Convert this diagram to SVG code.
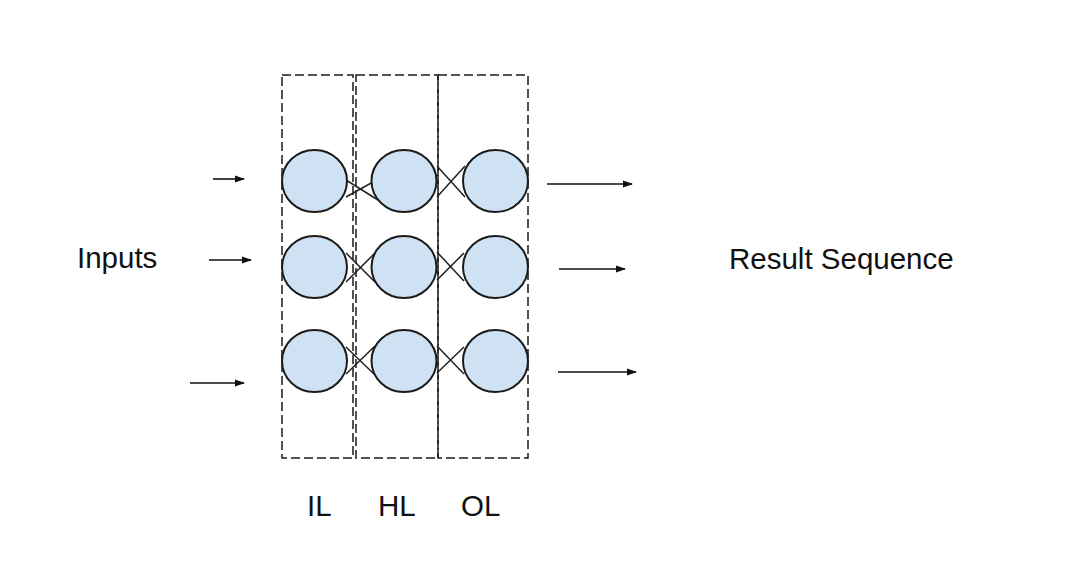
<svg xmlns="http://www.w3.org/2000/svg" width="1074" height="566" viewBox="0 0 1074 566">
<style>
.box{fill:none;stroke:#1a1a1a;stroke-width:1.5;stroke-dasharray:9,4}
.node{fill:#cfe2f3;stroke:#1a1a1a;stroke-width:2}
.x{fill:none;stroke:#222;stroke-width:1.5}
.arr{fill:none;stroke:#111;stroke-width:1.6;marker-end:url(#ah)}
.lbl{font-family:"Liberation Sans",Arial,sans-serif;font-size:29.5px;fill:#111}
</style>
<defs>
<marker id="ah" viewBox="0 0 10 10" refX="9" refY="5" markerWidth="10" markerHeight="8" markerUnits="userSpaceOnUse" orient="auto" preserveAspectRatio="none">
<path d="M0,0.5 L10,5 L0,9.5 z" fill="#111"/>
</marker>
</defs>
<rect width="1074" height="566" fill="#fff"/>
<g id="layers">
<rect id="box-IL" class="box" x="282" y="75" width="71" height="383"/>
<rect id="box-HL" class="box" x="356" y="75" width="82" height="383"/>
<rect id="box-OL" class="box" x="438" y="75" width="90" height="383"/>
</g>
<g id="connectors">
<line class="x" x1="346" y1="180" x2="378" y2="200"/>
<line class="x" x1="346" y1="197" x2="373" y2="182"/>
<line class="x" x1="437" y1="166" x2="465" y2="197"/>
<line class="x" x1="437" y1="197" x2="465" y2="166"/>
<line class="x" x1="346" y1="253" x2="375" y2="282"/>
<line class="x" x1="346" y1="282" x2="375" y2="253"/>
<line class="x" x1="437" y1="252" x2="464" y2="281"/>
<line class="x" x1="437" y1="280" x2="464" y2="253"/>
<line class="x" x1="346" y1="347" x2="375" y2="375"/>
<line class="x" x1="346" y1="374" x2="375" y2="346"/>
<line class="x" x1="437" y1="346" x2="464" y2="374"/>
<line class="x" x1="437" y1="373" x2="464" y2="347"/>
<line class="arr" x1="213" y1="179" x2="244" y2="179"/>
<line class="arr" x1="209" y1="260" x2="251" y2="260"/>
<line class="arr" x1="190" y1="383" x2="244" y2="383"/>
<line class="arr" x1="547" y1="184" x2="632" y2="184"/>
<line class="arr" x1="559" y1="269" x2="625" y2="269"/>
<line class="arr" x1="558" y1="372" x2="636" y2="372"/>
</g>
<g id="n-il1"><ellipse class="node" cx="314.5" cy="181" rx="32.5" ry="31"/></g>
<g id="n-hl1"><ellipse class="node" cx="404" cy="181" rx="32.5" ry="31"/></g>
<g id="n-ol1"><ellipse class="node" cx="495.5" cy="181" rx="32.5" ry="31"/></g>
<g id="n-il2"><ellipse class="node" cx="314.5" cy="267" rx="32.5" ry="31"/></g>
<g id="n-hl2"><ellipse class="node" cx="404" cy="267" rx="32.5" ry="31"/></g>
<g id="n-ol2"><ellipse class="node" cx="495.5" cy="267" rx="32.5" ry="31"/></g>
<g id="n-il3"><ellipse class="node" cx="314.5" cy="361" rx="32.5" ry="31"/></g>
<g id="n-hl3"><ellipse class="node" cx="404" cy="361" rx="32.5" ry="31"/></g>
<g id="n-ol3"><ellipse class="node" cx="495.5" cy="361" rx="32.5" ry="31"/></g>
<g id="labels">
<text class="lbl" x="77" y="268">Inputs</text>
<text class="lbl" x="729" y="269">Result Sequence</text>
<text class="lbl" x="307" y="516">IL</text>
<text class="lbl" x="378" y="516">HL</text>
<text class="lbl" x="461" y="516">OL</text>
</g>
</svg>
